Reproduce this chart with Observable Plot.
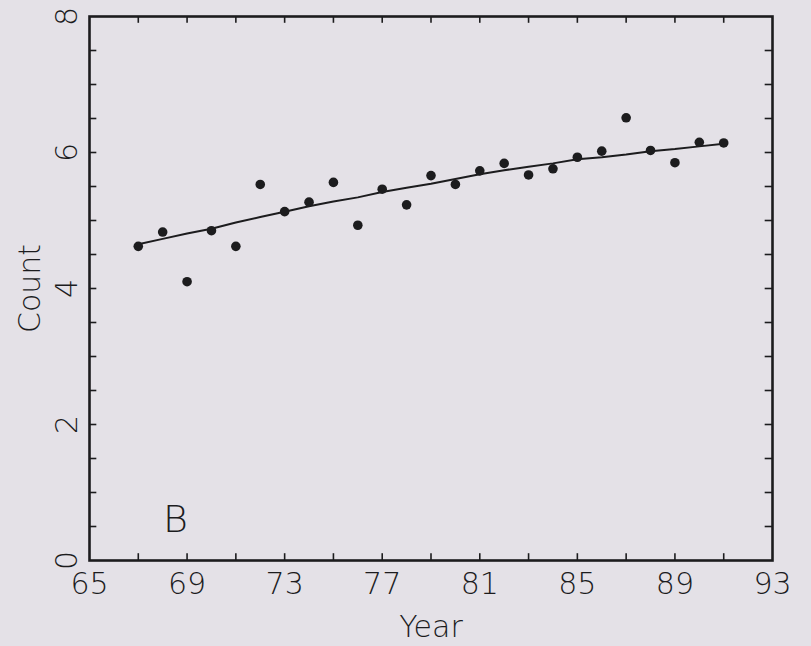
<!DOCTYPE html>
<html>
<head>
<meta charset="utf-8">
<script src="https://cdn.jsdelivr.net/npm/d3@7"></script>
<script src="https://cdn.jsdelivr.net/npm/@observablehq/plot@0.6"></script>
<style>
  html, body { margin: 0; padding: 0; background: #e4e1e7; }
  #chart { width: 811px; height: 646px; }
</style>
</head>
<body>
<div id="chart"></div>
<script>
const years = [67, 68, 69, 70, 71, 72, 73, 74, 75, 76, 77, 78, 79, 80, 81, 82, 83, 84, 85, 86, 87, 88, 89, 90, 91];
const counts = [4.62, 4.83, 4.10, 4.85, 4.62, 5.53, 5.13, 5.27, 5.56, 4.93, 5.46, 5.23, 5.66, 5.53, 5.73, 5.84, 5.67, 5.76, 5.93, 6.02, 6.51, 6.03, 5.85, 6.15, 6.14];
const fitted = [4.65, 4.73, 4.81, 4.88, 4.97, 5.05, 5.13, 5.21, 5.28, 5.34, 5.42, 5.48, 5.54, 5.61, 5.68, 5.74, 5.79, 5.84, 5.90, 5.93, 5.97, 6.02, 6.05, 6.09, 6.13];
const xTickLabels = [65, 69, 73, 77, 81, 85, 89, 93];
const yTickLabels = [0, 2, 4, 6, 8];
const xTicks = [67, 69, 71, 73, 75, 77, 79, 81, 83, 85, 87, 89, 91];
const yTicks = [0.5, 1, 1.5, 2, 2.5, 3, 3.5, 4, 4.5, 5, 5.5, 6, 6.5, 7, 7.5];
const panelLabel = "B";
const xLabel = "Year";
const yLabel = "Count";

const pts = years.map((y, i) => ({year: y, count: counts[i]}));
const fit = years.map((y, i) => ({year: y, value: fitted[i]}));

const ink = "#1c1c1e";
const font = "'DejaVu Sans', sans-serif";

const chart = Plot.plot({
  width: 811,
  height: 646,
  marginLeft: 89,
  marginRight: 39,
  marginTop: 16,
  marginBottom: 86,
  style: {background: "#e4e1e7", fontFamily: font, color: ink},
  x: {domain: [65, 93], axis: null},
  y: {domain: [0, 8], axis: null},
  marks: [
    // inward ticks
    Plot.ruleX(xTicks, {x: d => d, y1: 0, y2: 0.1, stroke: ink, strokeWidth: 1.6}),
    Plot.ruleX(xTicks, {x: d => d, y1: 8, y2: 7.9, stroke: ink, strokeWidth: 1.6}),
    Plot.ruleY(yTicks, {y: d => d, x1: 65, x2: 65.3, stroke: ink, strokeWidth: 1.6}),
    Plot.ruleY(yTicks, {y: d => d, x1: 93, x2: 92.7, stroke: ink, strokeWidth: 1.6}),
    Plot.frame({stroke: ink, strokeWidth: 2.6}),
    // x tick labels
    Plot.text(xTickLabels, {x: d => d, frameAnchor: "bottom", dy: 12, lineAnchor: "top",
      text: d => String(d), fontSize: 30, fontWeight: 300, fill: ink}),
    // y tick labels (rotated)
    Plot.text(yTickLabels, {y: d => d, frameAnchor: "left", dx: -22, rotate: -90,
      textAnchor: "middle", lineAnchor: "middle", text: d => String(d), fontSize: 30, fontWeight: 300, fill: ink}),
    // axis titles
    Plot.text([xLabel], {frameAnchor: "bottom", dy: 67, lineAnchor: "middle", text: d => d,
      fontSize: 30, fontWeight: 300, fill: ink}),
    Plot.text([yLabel], {frameAnchor: "left", dx: -59, rotate: -90, textAnchor: "middle",
      lineAnchor: "middle", text: d => d, fontSize: 30, fontWeight: 300, fill: ink}),
    // panel label
    Plot.text([panelLabel], {frameAnchor: "bottom-left", dx: 86, dy: -41, textAnchor: "middle",
      lineAnchor: "middle", text: d => d, fontSize: 38, fontWeight: 300, fill: ink}),
    // fitted line
    Plot.line(fit, {x: "year", y: "value", stroke: ink, strokeWidth: 2}),
    // points
    Plot.dot(pts, {x: "year", y: "count", r: 4.8, fill: ink, stroke: "none"})
  ]
});
document.getElementById("chart").appendChild(chart);
</script>
</body>
</html>
